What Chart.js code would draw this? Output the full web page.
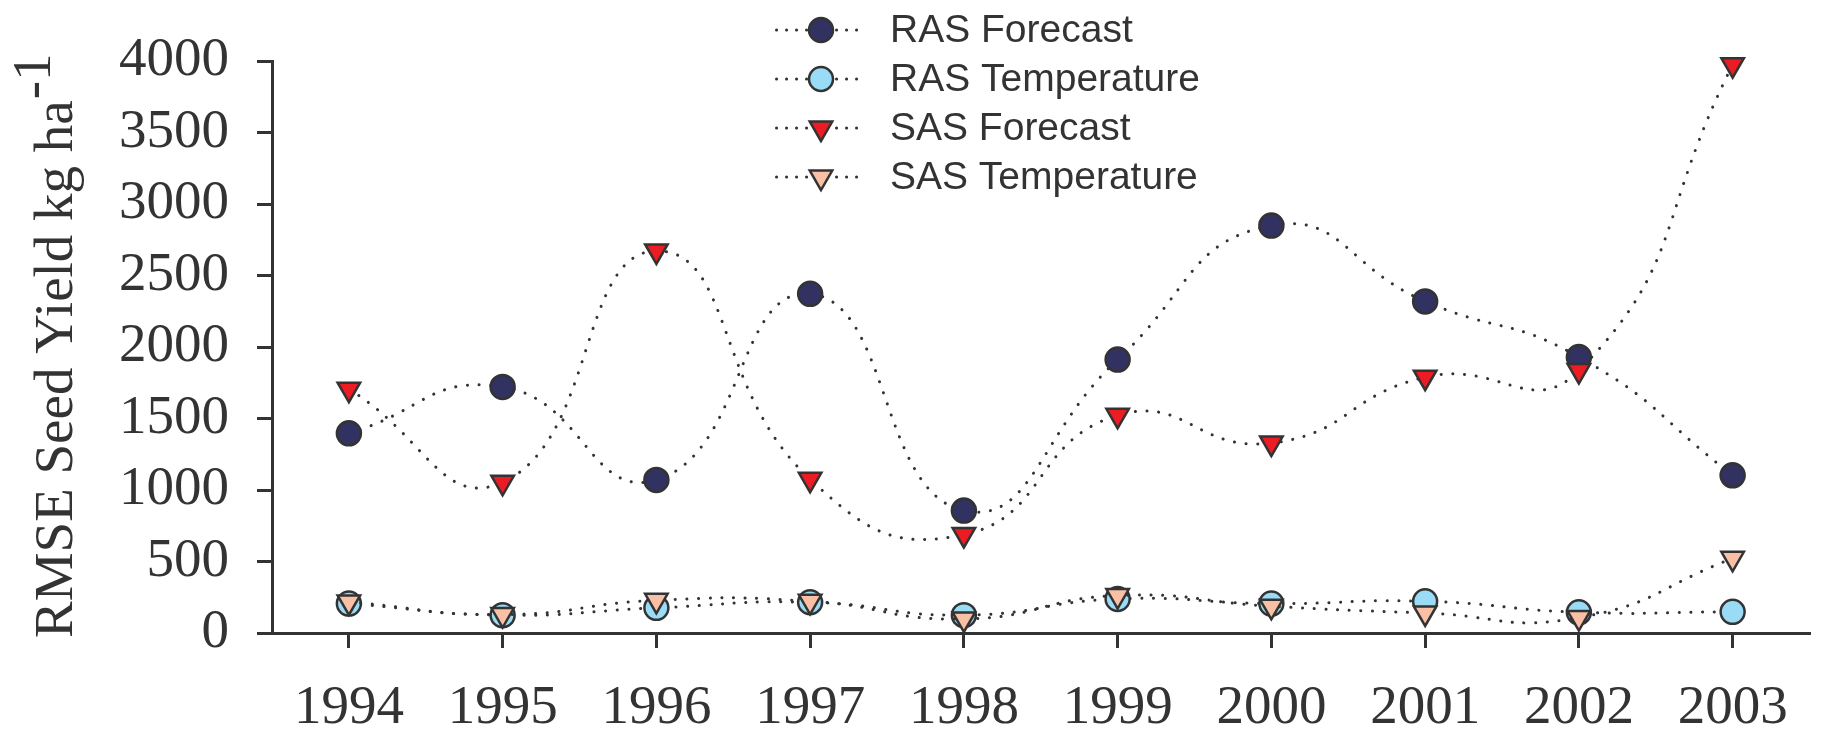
<!DOCTYPE html>
<html>
<head>
<meta charset="utf-8">
<script src="https://cdn.jsdelivr.net/npm/chart.js@4.4.1/dist/chart.umd.min.js"></script>
<style>
html,body{margin:0;padding:0;background:#ffffff;}
canvas{display:block;}
</style>
</head>
<body>
<canvas id="c" width="1825" height="733"></canvas>
<script>
// ---- data ----
const years = ['1994','1995','1996','1997','1998','1999','2000','2001','2002','2003'];
const rasForecast    = [1396, 1721, 1070, 2372, 856, 1912, 2849, 2319, 1930, 1103];
const rasTemperature = [206, 125, 176, 215, 125, 238, 206, 222, 145, 148];
const sasForecast    = [1705, 1054, 2672, 1075, 688, 1522, 1328, 1789, 1835, 3974];
const sasTemperature = [217, 129, 229, 222, 98, 262, 187, 140, 108, 522];
const yTicks = [0, 500, 1000, 1500, 2000, 2500, 3000, 3500, 4000];
const yTickLabels = ['0', '500', '1000', '1500', '2000', '2500', '3000', '3500', '4000'];
const seriesNames = ['RAS Forecast', 'RAS Temperature', 'SAS Forecast', 'SAS Temperature'];
const axisTitle = 'RMSE Seed Yield kg ha';
const axisTitleSup = '-1';

// ---- styles ----
const INK = '#333333';
const FILLS = ['#323262', '#9adcf6', '#ec1c24', '#f9c0a6'];
const STYLES = ['circle', 'circle', 'triangle', 'triangle'];
const SERIES = [rasForecast, rasTemperature, sasForecast, sasTemperature];

function makeDataset(i) {
  const tri = STYLES[i] === 'triangle';
  const r = tri ? 13 : 12;
  return {
    label: seriesNames[i],
    data: SERIES[i],
    borderColor: INK,
    backgroundColor: FILLS[i],
    pointBackgroundColor: FILLS[i],
    pointBorderColor: INK,
    pointBorderWidth: 2.5,
    pointRadius: r,
    pointHoverRadius: r,
    pointStyle: STYLES[i],
    pointRotation: tri ? 180 : 0,
    borderWidth: 3,
    borderDash: [0.1, 11.6],
    borderCapStyle: 'round',
    tension: 0.5,
    fill: false,
    clip: false,
    order: 4 - i
  };
}

const customDecor = {
  id: 'customDecor',
  afterDraw(chart) {
    const ctx = chart.ctx;
    // y-axis title with superscript
    ctx.save();
    ctx.fillStyle = INK;
    ctx.font = '55px "Liberation Serif"';
    ctx.translate(72, 638);
    ctx.rotate(-Math.PI / 2);
    ctx.textAlign = 'left';
    ctx.textBaseline = 'alphabetic';
    ctx.fillText(axisTitle, 0, 0);
    const w = ctx.measureText(axisTitle).width;
    ctx.fillText(axisTitleSup, w + 1, -22);
    ctx.restore();

    // legend
    const rows = [30, 79, 128, 177];
    chart.data.datasets.forEach((ds, i) => {
      const y = rows[i];
      ctx.save();
      ctx.strokeStyle = INK;
      ctx.lineWidth = 3;
      ctx.lineCap = 'round';
      ctx.setLineDash([0.1, 9.9]);
      ctx.beginPath();
      ctx.moveTo(776.5, y);
      ctx.lineTo(858, y);
      ctx.stroke();
      ctx.setLineDash([]);
      ctx.fillStyle = ds.pointBackgroundColor;
      ctx.strokeStyle = INK;
      ctx.lineWidth = 2.5;
      Chart.helpers.drawPoint(ctx, {
        pointStyle: ds.pointStyle,
        rotation: ds.pointRotation,
        radius: ds.pointRadius,
        borderWidth: 2.5
      }, 821, y);
      ctx.fillStyle = INK;
      ctx.font = '39px "Liberation Sans"';
      ctx.textAlign = 'left';
      ctx.textBaseline = 'middle';
      ctx.fillText(ds.label, 890, y + 1);
      ctx.restore();
    });
  }
};

const tickFont = { family: '"Liberation Serif"', size: 55 };

new Chart(document.getElementById('c'), {
  type: 'line',
  data: {
    labels: years,
    datasets: [0, 1, 2, 3].map(makeDataset)
  },
  options: {
    responsive: false,
    animation: false,
    devicePixelRatio: 1,
    events: [],
    layout: { padding: { top: 60, right: 1, left: 0, bottom: 0 } },
    plugins: { legend: { display: false }, tooltip: { enabled: false }, title: { display: false } },
    scales: {
      x: {
        type: 'category',
        offset: true,
        grid: { display: true, drawOnChartArea: false, drawTicks: true, tickLength: 15, color: INK, lineWidth: 3 },
        border: { display: true, color: INK, width: 3 },
        ticks: { font: tickFont, color: INK, padding: 28, maxRotation: 0, autoSkip: false },
        afterFit: (s) => { s.height = 100; }
      },
      y: {
        min: 0,
        max: 4000,
        afterBuildTicks: (s) => { s.ticks = yTicks.map(v => ({ value: v })); },
        grid: { display: true, drawOnChartArea: false, drawTicks: true, tickLength: 15, color: INK, lineWidth: 3 },
        border: { display: true, color: INK, width: 3 },
        ticks: {
          font: tickFont, color: INK, padding: 28,
          callback: (v) => { const k = yTicks.indexOf(v); return k >= 0 ? yTickLabels[k] : ''; }
        },
        afterFit: (s) => { s.width = 272; }
      }
    }
  },
  plugins: [customDecor]
});
</script>
</body>
</html>
